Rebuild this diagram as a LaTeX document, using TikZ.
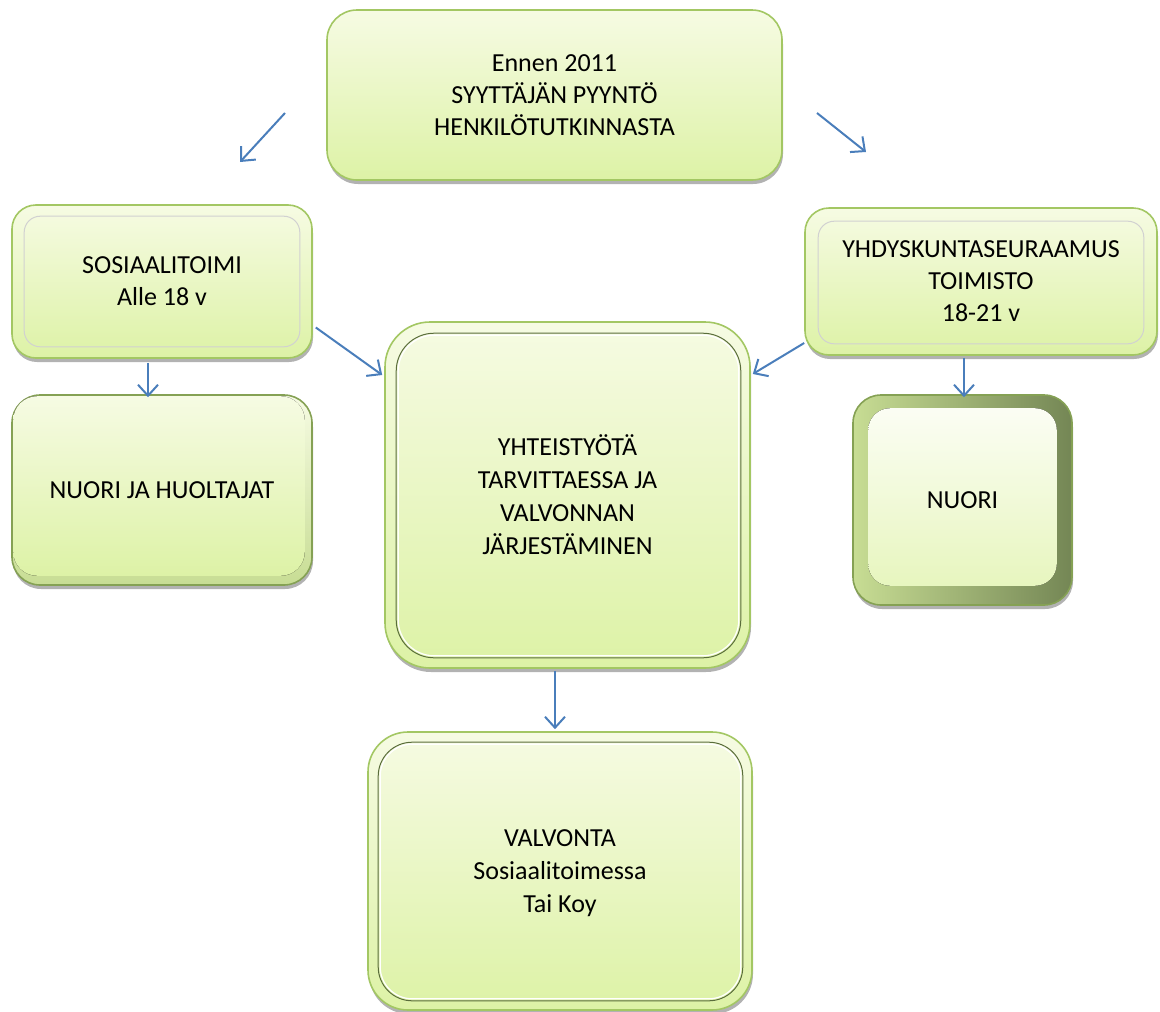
\documentclass[tikz,border=0pt]{standalone}
\usepackage{fontspec}
\setmainfont{Carlito}
\usetikzlibrary{arrows.meta,shadows,calc}
\definecolor{boxedge}{HTML}{A3C763}
\definecolor{boxtop}{HTML}{F6FBE3}
\definecolor{boxbot}{HTML}{DDF2A6}
\definecolor{arrblue}{HTML}{4A7EBB}
\definecolor{bevdark}{HTML}{71884A}
\tikzset{
  gbox/.style={rectangle, rounded corners=#1, draw=boxedge, line width=1.6pt,
    top color=boxtop, bottom color=boxbot, align=center, text=black,
    font=\fontsize{26}{32}\selectfont,
    drop shadow={shadow xshift=1pt, shadow yshift=-4pt, opacity=0.3, fill=black}},
  gbox/.default=28pt,
  innerline/.style={draw=#1, line width=1pt},
  btext/.style={align=center, font=\fontsize{26}{32}\selectfont, text=black},
  arr/.style={draw=arrblue, line width=2pt, -{Straight Barb[length=11pt,width=20pt,line width=2pt]}}
}
\begin{document}
\begin{tikzpicture}[x=1pt,y=-1pt]
\useasboundingbox (0,0) rectangle (1160,1012);
% main nodes
\node[gbox=30pt, minimum width=455pt, minimum height=170pt] (top) at (554.5,95)
  {Ennen 2011\\SYYTTÄJÄN PYYNTÖ\\HENKILÖTUTKINNASTA};
\node[gbox=24pt, minimum width=300pt, minimum height=153pt] (sos) at (162,281.5)
  {SOSIAALITOIMI\\Alle 18 v};
\node[gbox=28pt, minimum width=300pt, minimum height=190pt, draw=bevdark!60!boxedge,
  top color=boxtop, bottom color=boxbot!80!bevdark] (nh) at (162,490) {};
\node[gbox=45pt, minimum width=365pt, minimum height=346pt] (cen) at (567.5,495) {};
\node[gbox=24pt, minimum width=352pt, minimum height=147pt] (yh) at (981,281.5) {};
\node[gbox=28pt, minimum width=219pt, minimum height=210pt, draw=bevdark!60!boxedge,
  left color=boxbot!80!bevdark, right color=bevdark!80!gray] (nu) at (962.5,500) {};
\node[gbox=40pt, minimum width=384pt, minimum height=278pt] (val) at (560,871) {};
% bevel / inner details
\draw[innerline=black!18, rounded corners=16pt]
  ([shift={(13,12)}]sos.north west) rectangle ([shift={(-13,-12)}]sos.south east);
\draw[innerline=black!18, rounded corners=16pt]
  ([shift={(14,14)}]yh.north west) rectangle ([shift={(-14,-12)}]yh.south east);
\draw[innerline=bevdark!80!black, rounded corners=38pt]
  ([shift={(12,12)}]cen.north west) rectangle ([shift={(-10,-11)}]cen.south east);
\draw[innerline=white, rounded corners=36pt, line width=1.2pt]
  ([shift={(14,14)}]cen.north west) rectangle ([shift={(-12,-13)}]cen.south east);
\draw[innerline=bevdark!80!black, rounded corners=34pt]
  ([shift={(11,11)}]val.north west) rectangle ([shift={(-10,-10)}]val.south east);
\draw[innerline=white, rounded corners=32pt, line width=1.2pt]
  ([shift={(13,13)}]val.north west) rectangle ([shift={(-12,-12)}]val.south east);
\fill[top color=white!60!boxtop, bottom color=boxbot!60!boxtop, rounded corners=22pt]
  ([shift={(16,14)}]nu.north west) rectangle ([shift={(-16,-20)}]nu.south east);
\fill[top color=boxtop, bottom color=boxbot, rounded corners=24pt]
  ([shift={(2,2)}]nh.north west) rectangle ([shift={(-8,-10)}]nh.south east);
% texts on boxes with bevels
\node[btext] at (nh) {NUORI JA HUOLTAJAT};
\node[btext, font=\fontsize{26}{33}\selectfont] at (cen.center) {YHTEISTYÖTÄ\\TARVITTAESSA JA\\VALVONNAN\\JÄRJESTÄMINEN};
\node[btext] at (yh) {YHDYSKUNTASEURAAMUS\\TOIMISTO\\18-21 v};
\node[btext] at (nu) {NUORI};
\node[btext, font=\fontsize{26}{33}\selectfont] at ($(val)+(0,2)$) {VALVONTA\\Sosiaalitoimessa\\Tai Koy};
% free arrows from top
\coordinate (tlA) at (285,113);
\coordinate (tlB) at (240,162);
\coordinate (trA) at (817,113);
\coordinate (trB) at (866,152);
\draw[arr] (tlA) -- (tlB);
\draw[arr] (trA) -- (trB);
% connectors
\draw[arr] ($(sos.east)+(3,46)$) -- ($(cen.west)+(-2,-120)$);
\draw[arr] ($(yh.west)+(0,61.5)$) -- ($(cen.east)+(2,-121)$);
\draw[arr] ($(sos.south)+(-14,4)$) -- ($(nh.north)+(-14,3)$);
\draw[arr] ($(nu.north |- yh.south)+(1.5,2)$) -- ($(nu.north)+(1.5,3)$);
\draw[arr] ($(cen.south)+(-12.5,2)$) -- ($(val.north)+(-5,-2)$);
\end{tikzpicture}
\end{document}
